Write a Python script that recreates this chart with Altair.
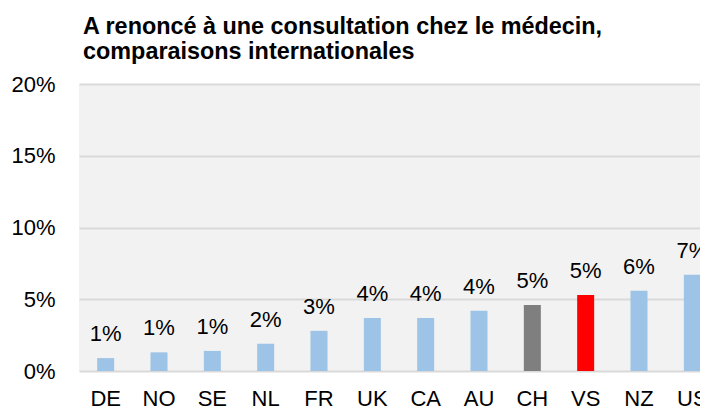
import altair as alt
import pandas as pd

countries = ["DE", "NO", "SE", "NL", "FR", "UK", "CA", "AU", "CH", "VS", "NZ", "US"]
values = [0.9, 1.3, 1.4, 1.9, 2.8, 3.7, 3.7, 4.2, 4.6, 5.3, 5.6, 6.7]
groups = ["autre"] * 8 + ["CH", "VS", "autre", "autre"]
group_names = ["autre", "CH", "VS"]
group_colors = ["#9DC3E6", "#7F7F7F", "#FF0000"]
title_lines = ["A renoncé à une consultation chez le médecin,", "comparaisons internationales"]
y_ticks = [0, 5, 10, 15, 20]

df = pd.DataFrame({"pays": countries, "valeur": values, "groupe": groups})

FONT = "Liberation Sans"

x = alt.X("pays:N", sort=countries, title=None,
          scale=alt.Scale(range=[0, 640], paddingInner=0, paddingOuter=0),
          axis=alt.Axis(labelAngle=0, labelFontSize=22, labelColor="black", labelFont=FONT,
                        labelPadding=17, ticks=False, domain=False, grid=False))

bars = alt.Chart(df).mark_bar(size=17).encode(
    x=x,
    y=alt.Y("valeur:Q", title=None,
            scale=alt.Scale(domain=[0, 20], nice=False),
            axis=alt.Axis(values=y_ticks, labelExpr="datum.value + '%'", labelFontSize=22,
                          labelColor="black", labelFont=FONT, labelPadding=24, ticks=False,
                          domain=False, gridColor="#D9D9D9", gridWidth=2)),
    color=alt.Color("groupe:N", scale=alt.Scale(domain=group_names, range=group_colors), legend=None),
)

labels = alt.Chart(df).transform_calculate(
    lab="format(datum.valeur / 100, '.0%')"
).mark_text(baseline="alphabetic", dy=-17, fontSize=22, font=FONT, color="black").encode(
    x=x,
    y=alt.Y("valeur:Q"),
    text="lab:N",
)

chart = alt.layer(bars, labels).properties(
    width=621,
    height=287,
    background="white",
    autosize=alt.AutoSizeParams(type="none"),
    padding={"left": 71, "top": 76, "right": 0, "bottom": 36},
    title=alt.TitleParams(title_lines, anchor="start", frame="group", dx=4, fontSize=23.4,
                          fontWeight="bold", font=FONT, color="black", lineHeight=25, offset=9),
).configure_view(fill="#F2F2F2", strokeWidth=0)

chart.save("out.html", embed_options={"renderer": "svg", "actions": False})
